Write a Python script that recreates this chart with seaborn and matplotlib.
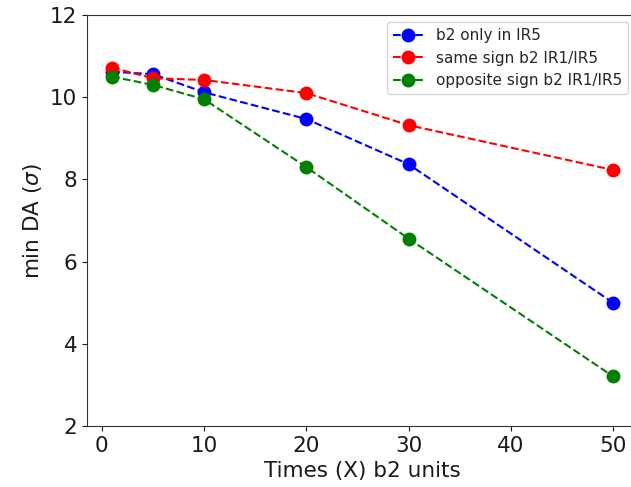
import matplotlib
matplotlib.use("Agg")
import matplotlib.pyplot as plt
import seaborn as sns
import pandas as pd

x_vals = [1, 5, 10, 20, 30, 50]
b2_only_ir5 = [10.62, 10.56, 10.12, 9.47, 8.37, 5.0]
same_sign = [10.72, 10.46, 10.42, 10.1, 9.32, 8.23]
opposite_sign = [10.5, 10.3, 9.95, 8.3, 6.56, 3.21]
labels = ["b2 only in IR5", "same sign b2 IR1/IR5", "opposite sign b2 IR1/IR5"]
colors = ["blue", "red", "green"]

rows = []
for lab, ys in zip(labels, [b2_only_ir5, same_sign, opposite_sign]):
    for xv, yv in zip(x_vals, ys):
        rows.append({"x": xv, "y": yv, "series": lab})
df = pd.DataFrame(rows)

sns.set_style("ticks")
plt.rcParams['font.family'] = ['DejaVu Sans']

fig = plt.figure(figsize=(6.31, 4.87), dpi=100)
ax = fig.add_axes([87/631, 1-426/487, 551/631, 411/487])

for lab, col in zip(labels, colors):
    sub = df[df["series"] == lab]
    sns.lineplot(data=sub, x="x", y="y", ax=ax, color=col, marker="o",
                 markersize=10, linestyle="--", linewidth=1.5, label=lab,
                 markeredgecolor=col, markeredgewidth=0)

ax.set_ylim(2, 12)
ax.set_xlim(-1.45, 52.45)
ax.set_xticks([0, 10, 20, 30, 40, 50])
ax.set_yticks([2, 4, 6, 8, 10, 12])
ax.tick_params(labelsize=15.5, colors="#1a1a1a")
ax.set_xlabel("Times (X) b2 units", fontsize=15.5, color="#1a1a1a")
ax.set_ylabel(r"min DA ($\sigma$)", fontsize=15.5, color="#1a1a1a")
ax.legend(loc="upper right", bbox_to_anchor=(0.982, 0.983), borderaxespad=0,
          fontsize=11, frameon=True)
for s in ax.spines.values():
    s.set_color("#333333")
ax.spines["right"].set_visible(False)

fig.savefig("out.png", dpi=100)
